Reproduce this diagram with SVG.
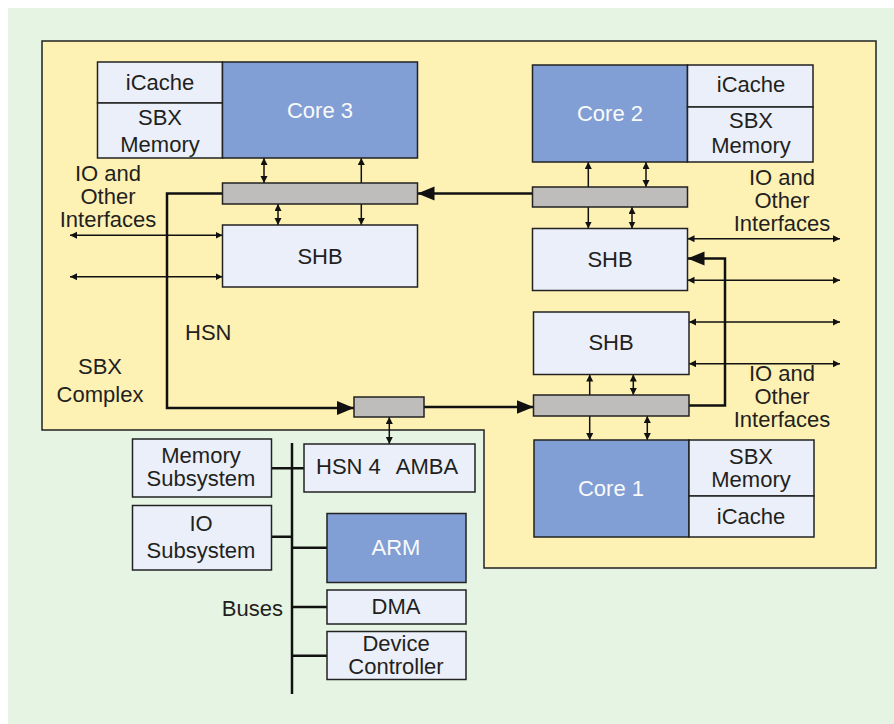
<svg xmlns="http://www.w3.org/2000/svg" width="894" height="724" viewBox="0 0 894 724">
<style>
.bg{fill:#e6f4e3}
.cx{fill:#fef1b4;stroke:#222;stroke-width:1.5}
.core{fill:#819fd5;stroke:#222;stroke-width:1.5}
.lt{fill:#eaeff9;stroke:#222;stroke-width:1.5}
.bar{fill:#bebdbb;stroke:#222;stroke-width:1.5}
text{font-family:"Liberation Sans",Arial,sans-serif;font-size:22px;fill:#231f20;text-anchor:middle}
.tw{fill:#fafafa}
.ln{stroke:#111;stroke-width:1.5;fill:none;marker-start:url(#a);marker-end:url(#a)}
.hsn{stroke:#111;stroke-width:2.5;fill:none;marker-end:url(#b)}
.bus{stroke:#111;stroke-width:2.5;fill:none}
</style>
<defs>
<marker id="a" markerUnits="userSpaceOnUse" markerWidth="8" markerHeight="8" refX="7" refY="3.5" orient="auto-start-reverse"><path d="M0,0L7,3.5L0,7z" fill="#111"/></marker>
<marker id="b" markerUnits="userSpaceOnUse" markerWidth="18" markerHeight="15" refX="17" refY="7" orient="auto"><path d="M0,0L17,7L0,14z" fill="#111"/></marker>
</defs>
<rect class="bg" x="8" y="8" width="886" height="716"/>
<g id="sbx-complex">
<path class="cx" d="M42,41H876V568H484V430H42Z"/>
<text x="100" y="374">SBX</text>
<text x="100" y="401.5">Complex</text>
</g>
<g id="connectors">
<line class="ln" x1="264" y1="158" x2="264" y2="183"/>
<line class="ln" x1="361.3" y1="158" x2="361.3" y2="225"/>
<line class="ln" x1="278" y1="204" x2="278" y2="225"/>
<line class="ln" x1="70" y1="235.3" x2="222.5" y2="235.3"/>
<line class="ln" x1="70" y1="276.7" x2="222.5" y2="276.7"/>
<line class="ln" x1="588.3" y1="162" x2="588.3" y2="228.5"/>
<line class="ln" x1="646" y1="162" x2="646" y2="187"/>
<line class="ln" x1="632" y1="207" x2="632" y2="228.5"/>
<line class="ln" x1="687.5" y1="238.7" x2="840" y2="238.7"/>
<line class="ln" x1="687.5" y1="280.3" x2="840" y2="280.3"/>
<line class="ln" x1="689" y1="322" x2="840" y2="322"/>
<line class="ln" x1="689" y1="363.7" x2="840" y2="363.7"/>
<line class="ln" x1="633.3" y1="374.5" x2="633.3" y2="395"/>
<line class="ln" x1="589.7" y1="374.5" x2="589.7" y2="440"/>
<line class="ln" x1="647.3" y1="416" x2="647.3" y2="440"/>
<line class="ln" x1="389.3" y1="417" x2="389.3" y2="444"/>
<path class="hsn" d="M532.5,193.5H417.5"/>
<path class="hsn" d="M222.5,193.5H167V408H354"/>
<path class="hsn" d="M424,407H533.5"/>
<path class="hsn" d="M689,405.5H725V258.5H687.5"/>
<path class="bus" d="M292,443V694"/>
<path class="bus" d="M271.5,468.3H304M271.5,536.7H292M292,547.7H327M292,607H327M292,655.7H327"/>
</g>
<g id="labels">
<text x="108" y="181">IO and</text>
<text x="108" y="204">Other</text>
<text x="108" y="227">Interfaces</text>
<text x="782" y="185">IO and</text>
<text x="782" y="208">Other</text>
<text x="782" y="231">Interfaces</text>
<text x="782" y="381">IO and</text>
<text x="782" y="404">Other</text>
<text x="782" y="427">Interfaces</text>
<text x="185" y="340" style="text-anchor:start">HSN</text>
<text x="283" y="616" style="text-anchor:end">Buses</text>
</g>
<g id="core3">
<rect class="lt" x="97.5" y="62" width="125" height="41"/>
<rect class="lt" x="97.5" y="103" width="125" height="55"/>
<rect class="core" x="222.5" y="62" width="195" height="96"/>
<text x="160" y="90">iCache</text>
<text x="160" y="125">SBX</text>
<text x="160" y="152">Memory</text>
<text class="tw" x="320" y="118">Core 3</text>
</g>
<g id="bar-l"><rect class="bar" x="222.5" y="183" width="195" height="21"/></g>
<g id="shb-l">
<rect class="lt" x="222.5" y="225" width="195" height="62"/>
<text x="320" y="264">SHB</text>
</g>
<g id="core2">
<rect class="core" x="532.5" y="65" width="155" height="97"/>
<rect class="lt" x="687.5" y="65" width="125.5" height="42"/>
<rect class="lt" x="687.5" y="107" width="125.5" height="55"/>
<text class="tw" x="610" y="121">Core 2</text>
<text x="751" y="92">iCache</text>
<text x="751" y="128">SBX</text>
<text x="751" y="153">Memory</text>
</g>
<g id="bar-r1"><rect class="bar" x="532.5" y="187" width="155" height="20"/></g>
<g id="shb-r1">
<rect class="lt" x="532.5" y="228.5" width="155" height="62"/>
<text x="610" y="267">SHB</text>
</g>
<g id="shb-r2">
<rect class="lt" x="533.5" y="312" width="155.5" height="62.5"/>
<text x="611" y="350">SHB</text>
</g>
<g id="bar-r2"><rect class="bar" x="533.5" y="395" width="155.5" height="21"/></g>
<g id="core1">
<rect class="core" x="534" y="440" width="155" height="97"/>
<rect class="lt" x="689" y="440" width="125" height="56"/>
<rect class="lt" x="689" y="496" width="125" height="41"/>
<text class="tw" x="611" y="496">Core 1</text>
<text x="751" y="464">SBX</text>
<text x="751" y="487">Memory</text>
<text x="751" y="524">iCache</text>
</g>
<g id="hsn-switch"><rect class="bar" x="354" y="397" width="70" height="20"/></g>
<g id="hsn-amba">
<rect class="lt" x="304" y="444" width="171" height="48"/>
<text x="316" y="474" style="text-anchor:start">HSN 4 <tspan dx="10">AMBA</tspan></text>
</g>
<g id="memory-subsystem">
<rect class="lt" x="132.5" y="439" width="139" height="58"/>
<text x="201" y="463">Memory</text>
<text x="201" y="486">Subsystem</text>
</g>
<g id="io-subsystem">
<rect class="lt" x="132.5" y="505.5" width="139" height="64.5"/>
<text x="201" y="531">IO</text>
<text x="201" y="558">Subsystem</text>
</g>
<g id="arm">
<rect class="core" x="327" y="513.5" width="139" height="69"/>
<text class="tw" x="396" y="555">ARM</text>
</g>
<g id="dma">
<rect class="lt" x="327" y="590" width="139" height="34"/>
<text x="396" y="614">DMA</text>
</g>
<g id="device-controller">
<rect class="lt" x="327" y="631.5" width="139" height="48"/>
<text x="396" y="651">Device</text>
<text x="396" y="674">Controller</text>
</g>
</svg>
